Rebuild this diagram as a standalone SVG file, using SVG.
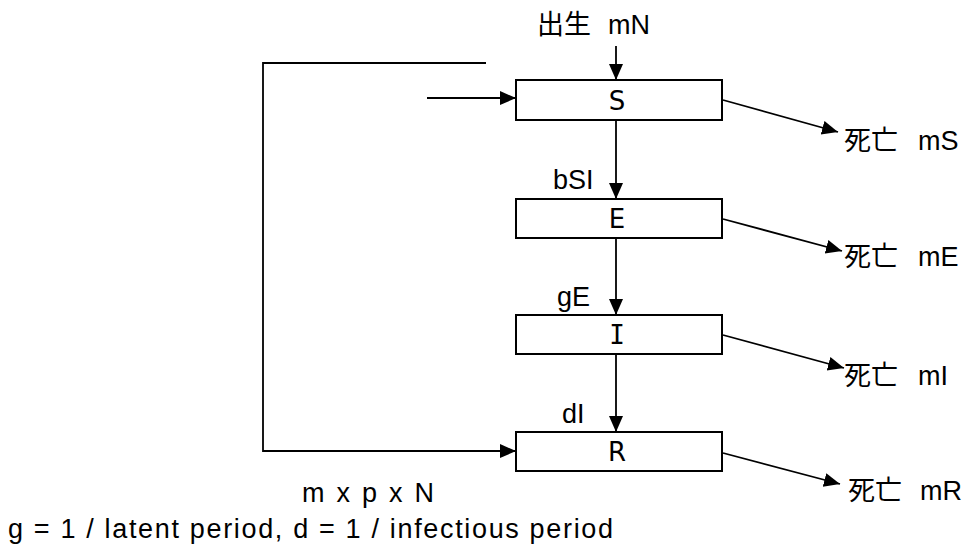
<svg xmlns="http://www.w3.org/2000/svg" width="972" height="545" viewBox="0 0 972 545">
  <style>
    .box { fill: #ffffff; stroke: #000000; stroke-width: 2; }
    .state { font-family: "DejaVu Sans", "Liberation Sans", sans-serif; font-size: 26px; fill: #000; text-anchor: middle; }
    .mono { font-family: "DejaVu Sans Mono", "DejaVu Sans", monospace; }
    .lbl { font-family: "Liberation Sans", "Noto Sans CJK JP", sans-serif; font-size: 27px; fill: #000; }
    .edge { fill: none; stroke: #000000; stroke-width: 1.8; }
    .arrow { marker-end: url(#head); }
  </style>
  <defs>
    <marker id="head" markerUnits="userSpaceOnUse" markerWidth="18" markerHeight="16" refX="16" refY="7" orient="auto">
      <path d="M0,0 L16,7 L0,14 Z" fill="#000"/>
    </marker>
  </defs>

  <rect width="972" height="545" fill="#ffffff"/>

  <!-- compartments -->
  <g id="node-S">
    <rect class="box" x="516" y="80" width="206" height="40"/>
    <text class="state" x="617" y="110">S</text>
  </g>
  <g id="node-E">
    <rect class="box" x="516" y="199" width="206" height="39"/>
    <text class="state" x="617" y="228">E</text>
  </g>
  <g id="node-I">
    <rect class="box" x="516" y="315" width="206" height="39"/>
    <text class="state mono" x="617" y="344">I</text>
  </g>
  <g id="node-R">
    <rect class="box" x="516" y="432" width="206" height="39"/>
    <text class="state" x="617" y="461">R</text>
  </g>

  <!-- flows between compartments -->
  <g id="connectors">
    <line class="edge arrow" x1="616" y1="46" x2="616" y2="80"/>
    <line class="edge arrow" x1="616" y1="121" x2="616" y2="199"/>
    <line class="edge arrow" x1="616" y1="239" x2="616" y2="315"/>
    <line class="edge arrow" x1="616" y1="355" x2="616" y2="432"/>
    <line class="edge arrow" x1="427" y1="98" x2="516" y2="98"/>
    <path class="edge arrow" d="M486,63 H263 V451 H516"/>
    <line class="edge arrow" x1="723" y1="100" x2="838" y2="132"/>
    <line class="edge arrow" x1="723" y1="219" x2="842" y2="251"/>
    <line class="edge arrow" x1="723" y1="335" x2="844" y2="368"/>
    <line class="edge arrow" x1="723" y1="453" x2="840" y2="484"/>
  </g>

  <!-- rate labels -->
  <g id="labels">
    <text class="lbl" y="34"><tspan x="537">出生</tspan><tspan x="608">mN</tspan></text>
    <text class="lbl" x="553" y="189">bSI</text>
    <text class="lbl" x="557" y="306">gE</text>
    <text class="lbl" x="562" y="423">dI</text>
    <text class="lbl" y="150"><tspan x="844">死亡</tspan><tspan x="918">mS</tspan></text>
    <text class="lbl" y="266"><tspan x="844">死亡</tspan><tspan x="918">mE</tspan></text>
    <text class="lbl" y="385"><tspan x="844">死亡</tspan><tspan x="918">mI</tspan></text>
    <text class="lbl" y="500"><tspan x="848">死亡</tspan><tspan x="920">mR</tspan></text>
    <text class="lbl" x="302" y="502" textLength="132" lengthAdjust="spacing">m x p x N</text>
    <text class="lbl" x="8" y="538" textLength="605" lengthAdjust="spacing">g = 1 / latent period, d = 1 / infectious period</text>
  </g>
</svg>
